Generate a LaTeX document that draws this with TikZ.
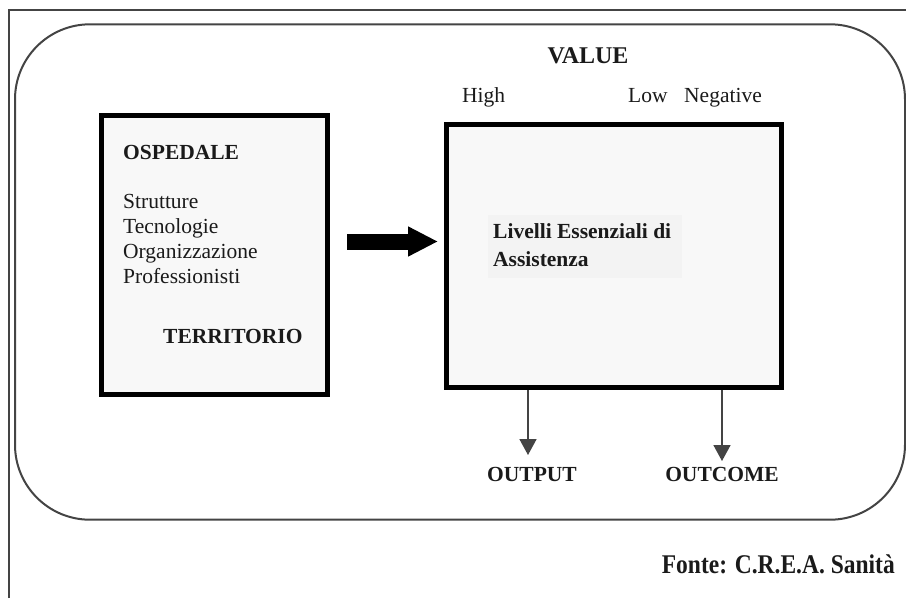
\documentclass[tikz,border=0pt]{standalone}
\usepackage{fontspec}
\setmainfont{Liberation Serif}
\usetikzlibrary{arrows.meta}
\definecolor{ink}{HTML}{1A1A1A}
\definecolor{framecol}{HTML}{444444}
\definecolor{boxfill}{HTML}{F8F8F8}
\definecolor{textbg}{HTML}{F3F3F3}
\begin{document}
\begin{tikzpicture}[x=1pt,y=-1pt,
  lbl/.style={inner sep=0pt, text=ink, font=\fontsize{21.5pt}{25pt}\selectfont},
  blbl/.style={inner sep=0pt, text=ink, font=\fontsize{21.5pt}{25pt}\selectfont\bfseries},
  mainbox/.style={draw=black, line width=5pt, fill=boxfill, inner sep=0pt},
  downarrow/.style={draw=framecol, line width=1.6pt, -{Triangle[width=17pt,length=16pt]}},
  bigarrow/.style={draw=black, line width=16pt, -{Triangle[width=28pt,length=30pt]}},
]
\useasboundingbox (0,0) rectangle (906,598);
\fill[white] (0,0) rectangle (906,598);
\draw[framecol, line width=1.7pt] (9.3,598) -- (9.3,10.3) -- (906,10.3);
\draw[framecol, line width=2pt, rounded corners=75pt] (15,24.3) rectangle (905,519.7);

\node[mainbox, minimum width=226.5pt, minimum height=279pt] (lbox) at (214.25,255) {};
\node[mainbox, minimum width=334.5pt, minimum height=263pt] (rbox) at (613.75,256) {};
\fill[textbg] (488,215) rectangle (682,278);

\node[inner sep=0pt, text=ink, font=\fontsize{24pt}{28pt}\selectfont\bfseries, anchor=base] (value) at (588,63) {VALUE};
\node[lbl, anchor=base west] (high) at (462,102) {High};
\node[lbl, anchor=base west] (low) at (628,102) {Low};
\node[lbl, anchor=base west] (neg) at (684,102) {Negative};

\node[blbl, anchor=base west] (osp) at (123,159) {OSPEDALE};
\node[lbl, anchor=base west] (s1) at (123,208) {Strutture};
\node[lbl, anchor=base west] (s2) at (123,233) {Tecnologie};
\node[lbl, anchor=base west] (s3) at (123,258) {Organizzazione};
\node[lbl, anchor=base west] (s4) at (123,283) {Professionisti};
\node[blbl, anchor=base west] (terr) at (163,343) {TERRITORIO};

\node[blbl, anchor=base west] (liv1) at (493,238) {Livelli Essenziali di};
\node[blbl, anchor=base west] (liv2) at (493,266) {Assistenza};

\node[blbl, anchor=base] (output) at (532,481) {OUTPUT};
\node[blbl, anchor=base] (outcome) at (722,481) {OUTCOME};

\node[inner sep=0pt, text=ink, font=\fontsize{27pt}{31pt}\selectfont\bfseries, anchor=base east] (fonte) at (895,573) {\scalebox{0.87}[1]{Fonte: C.R.E.A. Sanità}};

\coordinate (a1e) at (528,455);
\coordinate (a2e) at (722,461);
\draw[downarrow] (rbox.south -| a1e) -- (a1e);
\draw[downarrow] (rbox.south -| a2e) -- (a2e);

\coordinate (bs) at (347,241.5);
\coordinate (be) at (438,241.5);
\draw[bigarrow] (bs) -- (be);
\end{tikzpicture}
\end{document}
